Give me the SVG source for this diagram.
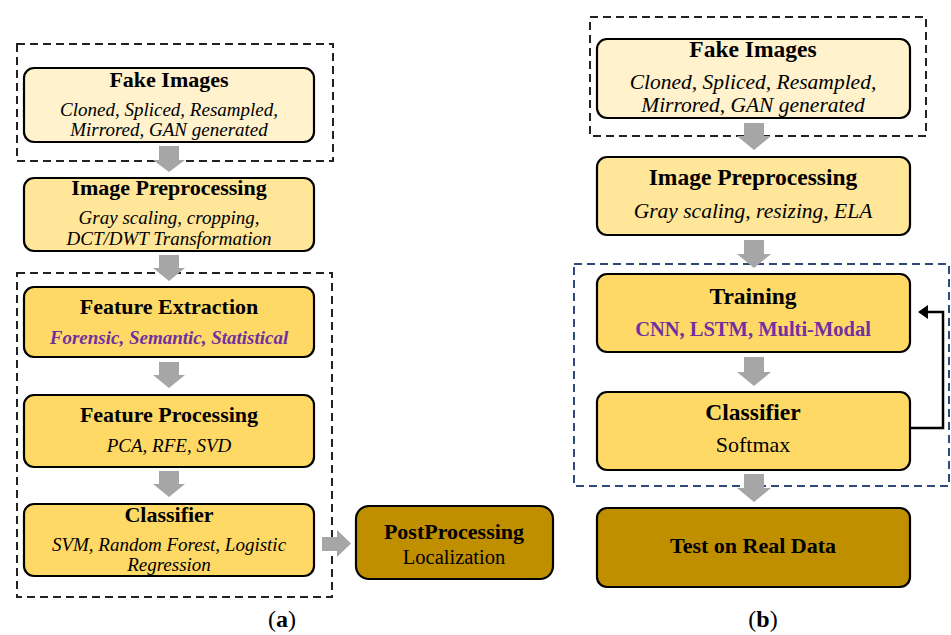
<svg xmlns="http://www.w3.org/2000/svg" width="951" height="635" viewBox="0 0 951 635">
  <style>
    text { font-family: "Liberation Serif", "Times New Roman", serif; fill: #000; text-anchor: middle; }
    .box { stroke: #000; stroke-width: 2.2; }
    .lt { fill: #FFF2CC; }
    .md { fill: #FFE699; }
    .dk { fill: #FFD966; }
    .gd { fill: #BF8F00; }
    .frame { fill: none; stroke: #222; stroke-width: 2; stroke-dasharray: 8 5; }
    .frame-b { fill: none; stroke: #2F4A7A; stroke-width: 2; stroke-dasharray: 8 5; }
    .tl { font-weight: bold; font-size: 22px; }
    .tr { font-weight: bold; font-size: 23.5px; }
    .sl { font-style: italic; font-size: 19px; }
    .sr { font-style: italic; font-size: 21.5px; }
    .purple { fill: #7030A0; font-weight: bold; }
    .flow { fill: #A6A6A6; }
    .cap { font-size: 24px; }
  </style>

  <!-- grouping frames -->
  <g id="frames">
    <rect class="frame" x="17" y="44" width="316" height="117"/>
    <rect class="frame" x="17" y="273" width="315" height="324"/>
    <rect class="frame" x="590" y="17" width="336" height="119"/>
    <rect class="frame-b" x="574" y="264" width="375" height="222"/>
  </g>

  <!-- connectors -->
  <g id="connectors">
    <!-- panel (a) block arrows -->
    <polygon class="flow" points="159,146 179,146 179,160 185,160 169,172 153,160 159,160"/>
    <polygon class="flow" points="159,255 179,255 179,268 185,268 169,281 153,268 159,268"/>
    <polygon class="flow" points="159,362 179,362 179,375 185,375 169,388 153,375 159,375"/>
    <polygon class="flow" points="159,471 179,471 179,484 185,484 169,497 153,484 159,484"/>
    <polygon class="flow" points="322,537 337,537 337,530 351,543.5 337,557 337,551 322,551"/>
    <!-- panel (b) block arrows -->
    <polygon class="flow" points="744,123 764,123 764,136 771,136 754,150 737,136 744,136"/>
    <polygon class="flow" points="744,240 764,240 764,254 771,254 754,268 737,254 744,254"/>
    <polygon class="flow" points="744,357 764,357 764,372 771,372 754,386 737,372 744,372"/>
    <polygon class="flow" points="744,474 764,474 764,488 771,488 754,502 737,488 744,488"/>
    <!-- feedback loop: classifier back to training -->
    <polyline points="910,428 943,428 943,312 926,312" fill="none" stroke="#000" stroke-width="2.5"/>
    <polygon points="918,312 928,305 928,319" fill="#000"/>
  </g>

  <!-- panel (a) -->
  <g id="a-fake">
    <rect class="box lt" x="24" y="68" width="290" height="74" rx="10"/>
    <text class="tl" x="169" y="87">Fake Images</text>
    <text class="sl" x="169" y="116">Cloned, Spliced, Resampled,</text>
    <text class="sl" x="169" y="136">Mirrored, GAN generated</text>
  </g>
  <g id="a-preprocessing">
    <rect class="box md" x="24" y="178" width="290" height="73" rx="10"/>
    <text class="tl" x="169" y="195">Image Preprocessing</text>
    <text class="sl" x="169" y="224">Gray scaling, cropping,</text>
    <text class="sl" x="169" y="245">DCT/DWT Transformation</text>
  </g>
  <g id="a-extraction">
    <rect class="box dk" x="24" y="287" width="290" height="70" rx="10"/>
    <text class="tl" x="169" y="314">Feature Extraction</text>
    <text class="sl purple" x="169" y="344">Forensic, Semantic, Statistical</text>
  </g>
  <g id="a-processing">
    <rect class="box dk" x="24" y="395" width="290" height="72" rx="10"/>
    <text class="tl" x="169" y="422">Feature Processing</text>
    <text class="sl" x="169" y="452">PCA, RFE, SVD</text>
  </g>
  <g id="a-classifier">
    <rect class="box dk" x="24" y="504" width="290" height="72" rx="10"/>
    <text class="tl" x="169" y="522">Classifier</text>
    <text class="sl" x="169" y="551">SVM, Random Forest, Logistic</text>
    <text class="sl" x="169" y="571">Regression</text>
  </g>
  <g id="a-postprocessing">
    <rect class="box gd" x="356" y="506" width="197" height="73" rx="13"/>
    <text class="tl" x="454" y="539">PostProcessing</text>
    <text x="454" y="564" font-size="20.5px">Localization</text>
  </g>

  <!-- panel (b) -->
  <g id="b-fake">
    <rect class="box lt" x="597" y="39" width="313" height="79" rx="10"/>
    <text class="tr" x="753" y="57">Fake Images</text>
    <text class="sr" x="753" y="89">Cloned, Spliced, Resampled,</text>
    <text class="sr" x="753" y="112">Mirrored, GAN generated</text>
  </g>
  <g id="b-preprocessing">
    <rect class="box md" x="597" y="157" width="313" height="78" rx="10"/>
    <text class="tr" x="753" y="185">Image Preprocessing</text>
    <text class="sr" x="753" y="218">Gray scaling, resizing, ELA</text>
  </g>
  <g id="b-training">
    <rect class="box dk" x="597" y="274" width="313" height="78" rx="10"/>
    <text class="tr" x="753" y="304">Training</text>
    <text class="purple" x="753" y="336" font-size="20.5px">CNN, LSTM, Multi-Modal</text>
  </g>
  <g id="b-classifier">
    <rect class="box dk" x="597" y="392" width="313" height="78" rx="10"/>
    <text class="tr" x="753" y="420">Classifier</text>
    <text x="753" y="452" font-size="22px">Softmax</text>
  </g>
  <g id="b-test">
    <rect class="box gd" x="597" y="508" width="313" height="79" rx="10"/>
    <text class="tl" x="753" y="553">Test on Real Data</text>
  </g>

  <!-- panel captions -->
  <text class="cap" x="282" y="627">(<tspan font-weight="bold">a</tspan>)</text>
  <text class="cap" x="763" y="627">(<tspan font-weight="bold">b</tspan>)</text>
</svg>
